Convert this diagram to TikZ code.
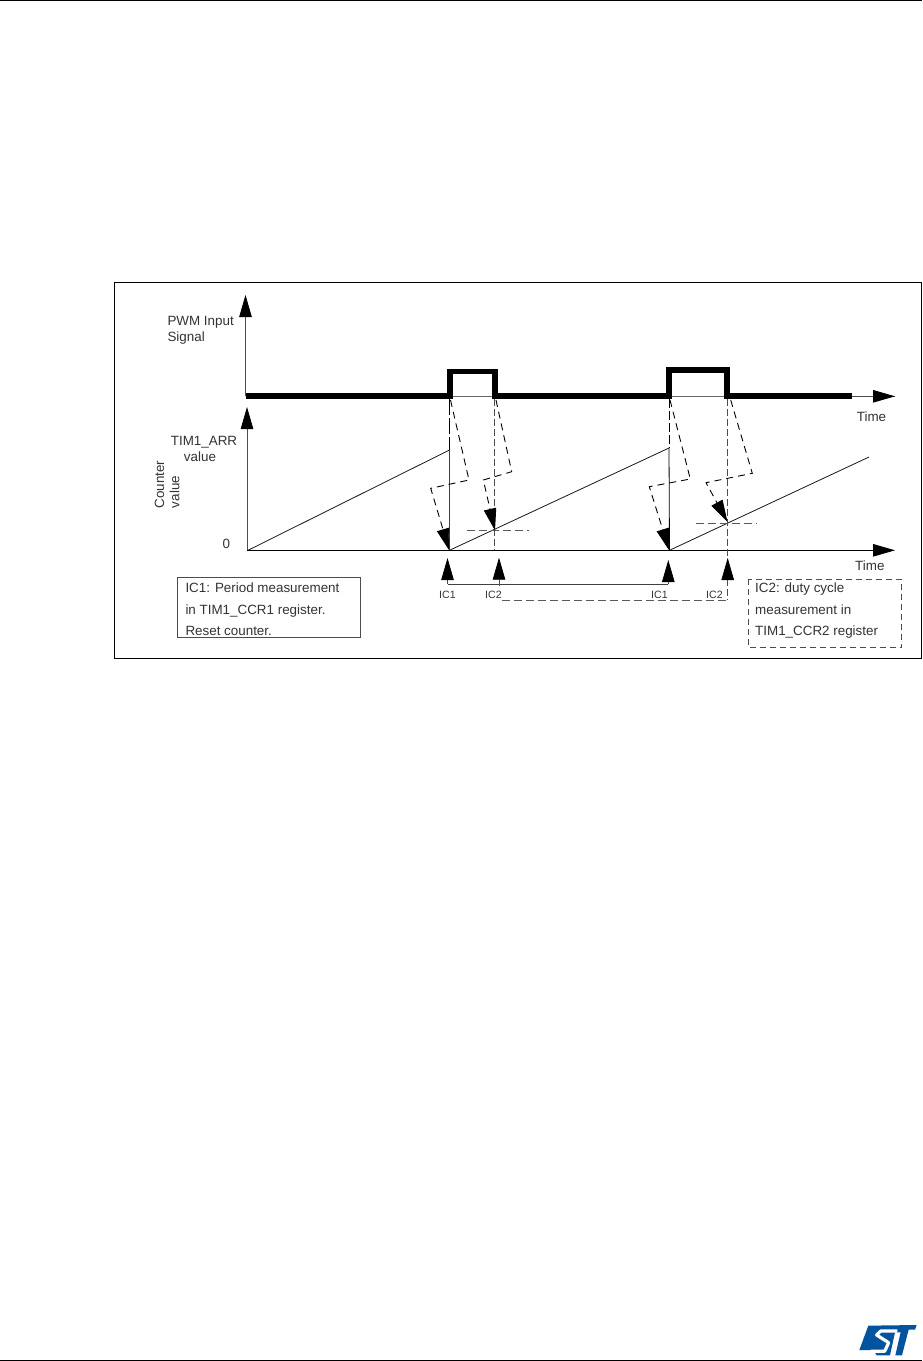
\documentclass[tikz,border=0pt]{standalone}
\usepackage{fontspec}
\setmainfont{Liberation Sans}
\usetikzlibrary{arrows.meta}
\definecolor{stblue}{HTML}{03549E}
\tikzset{
  x=1pt,y=-1pt,
  frame/.style={draw=black,line width=0.9pt},
  tipk/.style={-{Triangle[length=22pt,width=12.5pt,color=black,fill=black]}},
  axis/.style={draw=black,line width=0.8pt,tipk},
  upaxis/.style={draw=black!70,line width=0.8pt,tipk},
  sig/.style={draw=black,line width=5.8pt,miter limit=10},
  ramp/.style={draw=black!90,line width=0.8pt},
  thin/.style={draw=black!60,line width=0.6pt},
  dashV/.style={draw=black!70,line width=0.8pt,dash pattern=on 7pt off 3pt},
  dashH/.style={draw=black!65,line width=0.7pt,dash pattern=on 8pt off 4pt},
  bolt/.style={draw=black,line width=0.9pt,dash pattern=on 7pt off 5pt,tipk},
  lbl/.style={inner sep=0pt,anchor=base west,font=\fontsize{13.4}{15}\selectfont,text=black!80},
  lblc/.style={inner sep=0pt,anchor=base,font=\fontsize{13.4}{15}\selectfont,text=black!80},
  small/.style={inner sep=0pt,anchor=base west,font=\fontsize{10.6}{12}\selectfont,text=black!80},
  boxt/.style={inner sep=0pt,anchor=base west,font=\fontsize{13.4}{15}\selectfont,text=black!80},
}
\begin{document}
\begin{tikzpicture}
\useasboundingbox (0,0) rectangle (922,1361);
\fill[white] (0,0) rectangle (922,1361);
% page rules
\coordinate (tl) at (0,0.5); \coordinate (tr) at (922,0.5);
\coordinate (bl) at (0,1360); \coordinate (br) at (922,1360);
\draw[black,line width=1pt] (tl) -- (tr);
\draw[black,line width=1pt] (bl) -- (br);
% frame
\draw[frame] (114.5,282) rectangle (921.4,658);
% axes
\coordinate (o1) at (245.5,396.3); \coordinate (y1) at (245.5,295);
\coordinate (x1s) at (450,396.3); \coordinate (x1) at (895,396.3);
\coordinate (o2) at (247,550.3); \coordinate (y2) at (247,407);
\coordinate (x2) at (895,550.3);
\draw[upaxis] (o1) -- (y1);
\draw[upaxis] (o2) -- (y2);
\draw[thin] (x1s) -- (x1);
\draw[axis,draw=black!70] (848,396.3) -- (x1);
\draw[axis] (o2) -- (x2);
% signal
\draw[sig] (o1) -- (449.7,396.3) -- (449.7,371.5) -- (494.7,371.5) -- (494.7,396.3) -- (668.7,396.3) -- (668.7,370.3) -- (727.3,370.3) -- (727.3,396.3) -- (852,396.3);
% ramps
\coordinate (r1a) at (248,550.3); \coordinate (r1b) at (449.5,450);
\coordinate (r2a) at (449.5,550.3); \coordinate (r2b) at (669,448);
\coordinate (r3a) at (669.5,550.3); \coordinate (r3b) at (869,457);
\draw[ramp] (r1a) -- (r1b);
\draw[ramp] (r2a) -- (r2b);
\draw[ramp] (r3a) -- (r3b);
% verticals
\draw[draw=black,line width=0.9pt,dash pattern=on 16pt off 3pt] (449.5,399) -- (r1b);
\draw[draw=black!75,line width=0.8pt] (r1b) -- (r2a);
\draw[draw=black,line width=0.8pt,dash pattern=on 9pt off 3pt] (669,399) -- (r2b);
\draw[ramp,draw=black] (r2b) -- (r3a);
\draw[dashV] (494.7,399) -- (494.7,550);
\draw[dashV] (727.7,399) -- (727.7,600);
% crosshair dashes
\draw[dashH] (467,530.3) -- (529,530.3);
\draw[dashH] (695.7,523) -- (757,523);
\draw[dashH] (501.7,600) -- (727.7,600);
% bolts
\draw[bolt] (450.5,400) -- (469,480) -- (430.7,488.3) -- (449.3,550.5);
\draw[bolt] (496,400) -- (511.7,471.7) -- (483.3,480) -- (495,530.5);
\draw[bolt] (670,400) -- (690.3,479) -- (649.3,486.7) -- (669.3,550.5);
\draw[bolt] (730.7,400) -- (752.3,473.3) -- (706,482.7) -- (727.5,522);
% capture arrows
\coordinate (c1) at (447.5,584); \coordinate (c1t) at (447.5,558);
\coordinate (c2) at (668.3,584); \coordinate (c2t) at (668.3,560);
\coordinate (c3) at (499,586); \coordinate (c3t) at (499,557.7);
\coordinate (c4) at (727.7,584); \coordinate (c4t) at (727.7,558);
\draw[thin,draw=black!75] (c1) -- (c2);
\draw[upaxis] (c1) -- (c1t);
\draw[upaxis] (c2) -- (c2t);
\draw[upaxis] (c3) -- (c3t);
\draw[upaxis] (c4) -- (c4t);
% labels
\node[lbl] (pwm) at (167.3,325.7) {PWM Input};
\node[lbl] (sigl) at (167.3,341) {Signal};
\node[lbl] (t1) at (856.7,421.7) {Time};
\node[lbl] (t2) at (855,570) {Time};
\node[lbl] (arr) at (170.7,445.7) {TIM1\_ARR};
\node[lblc] (val) at (200,461.7) {value};
\node[lblc,rotate=90] (cnt) at (164,484.6) {Counter};
\node[lblc,rotate=90] (cval) at (179.3,492) {value};
\node[lbl] (zero) at (222.3,548.3) {0};
\node[small] (i1) at (439,598.3) {IC1};
\node[small] (i2) at (485,598.3) {IC2};
\node[small] (i3) at (651,598.3) {IC1};
\node[small] (i4) at (706,598.3) {IC2};
% boxes
\draw[thin,draw=black!70] (177.3,577.3) rectangle (360.3,637.3);
\node[boxt] (b1a) at (185.3,592.7) {IC1: Period measurement};
\node[boxt] (b1b) at (185.3,614) {in TIM1\_CCR1 register.};
\node[boxt] (b1c) at (185.3,635.3) {Reset counter.};
\draw[thin,draw=black!70,dash pattern=on 6pt off 4pt] (748.3,579.3) rectangle (901.7,647.7);
\node[boxt] (b2a) at (755,592.7) {IC2: duty cycle};
\node[boxt] (b2b) at (755,614) {measurement in};
\node[boxt] (b2c) at (755,635.3) {TIM1\_CCR2 register};
% logo
\begin{scope}[shift={(780,1290)},x=0.3333pt,y=-0.3333pt]
\fill[stblue] (265,107) -- (410,105) -- (405,119) -- (386,119) -- (366,196) -- (346,196) -- (362,127) -- (345,127) -- (330,196) -- (290,196) -- (280,180) -- (238,180) -- cycle;
\draw[white,line width=3.2pt,line join=round] (352,123) -- (302,123) -- (290,135) -- (326,158) -- (314,184) -- (272,184);
\end{scope}
\end{tikzpicture}
\end{document}
